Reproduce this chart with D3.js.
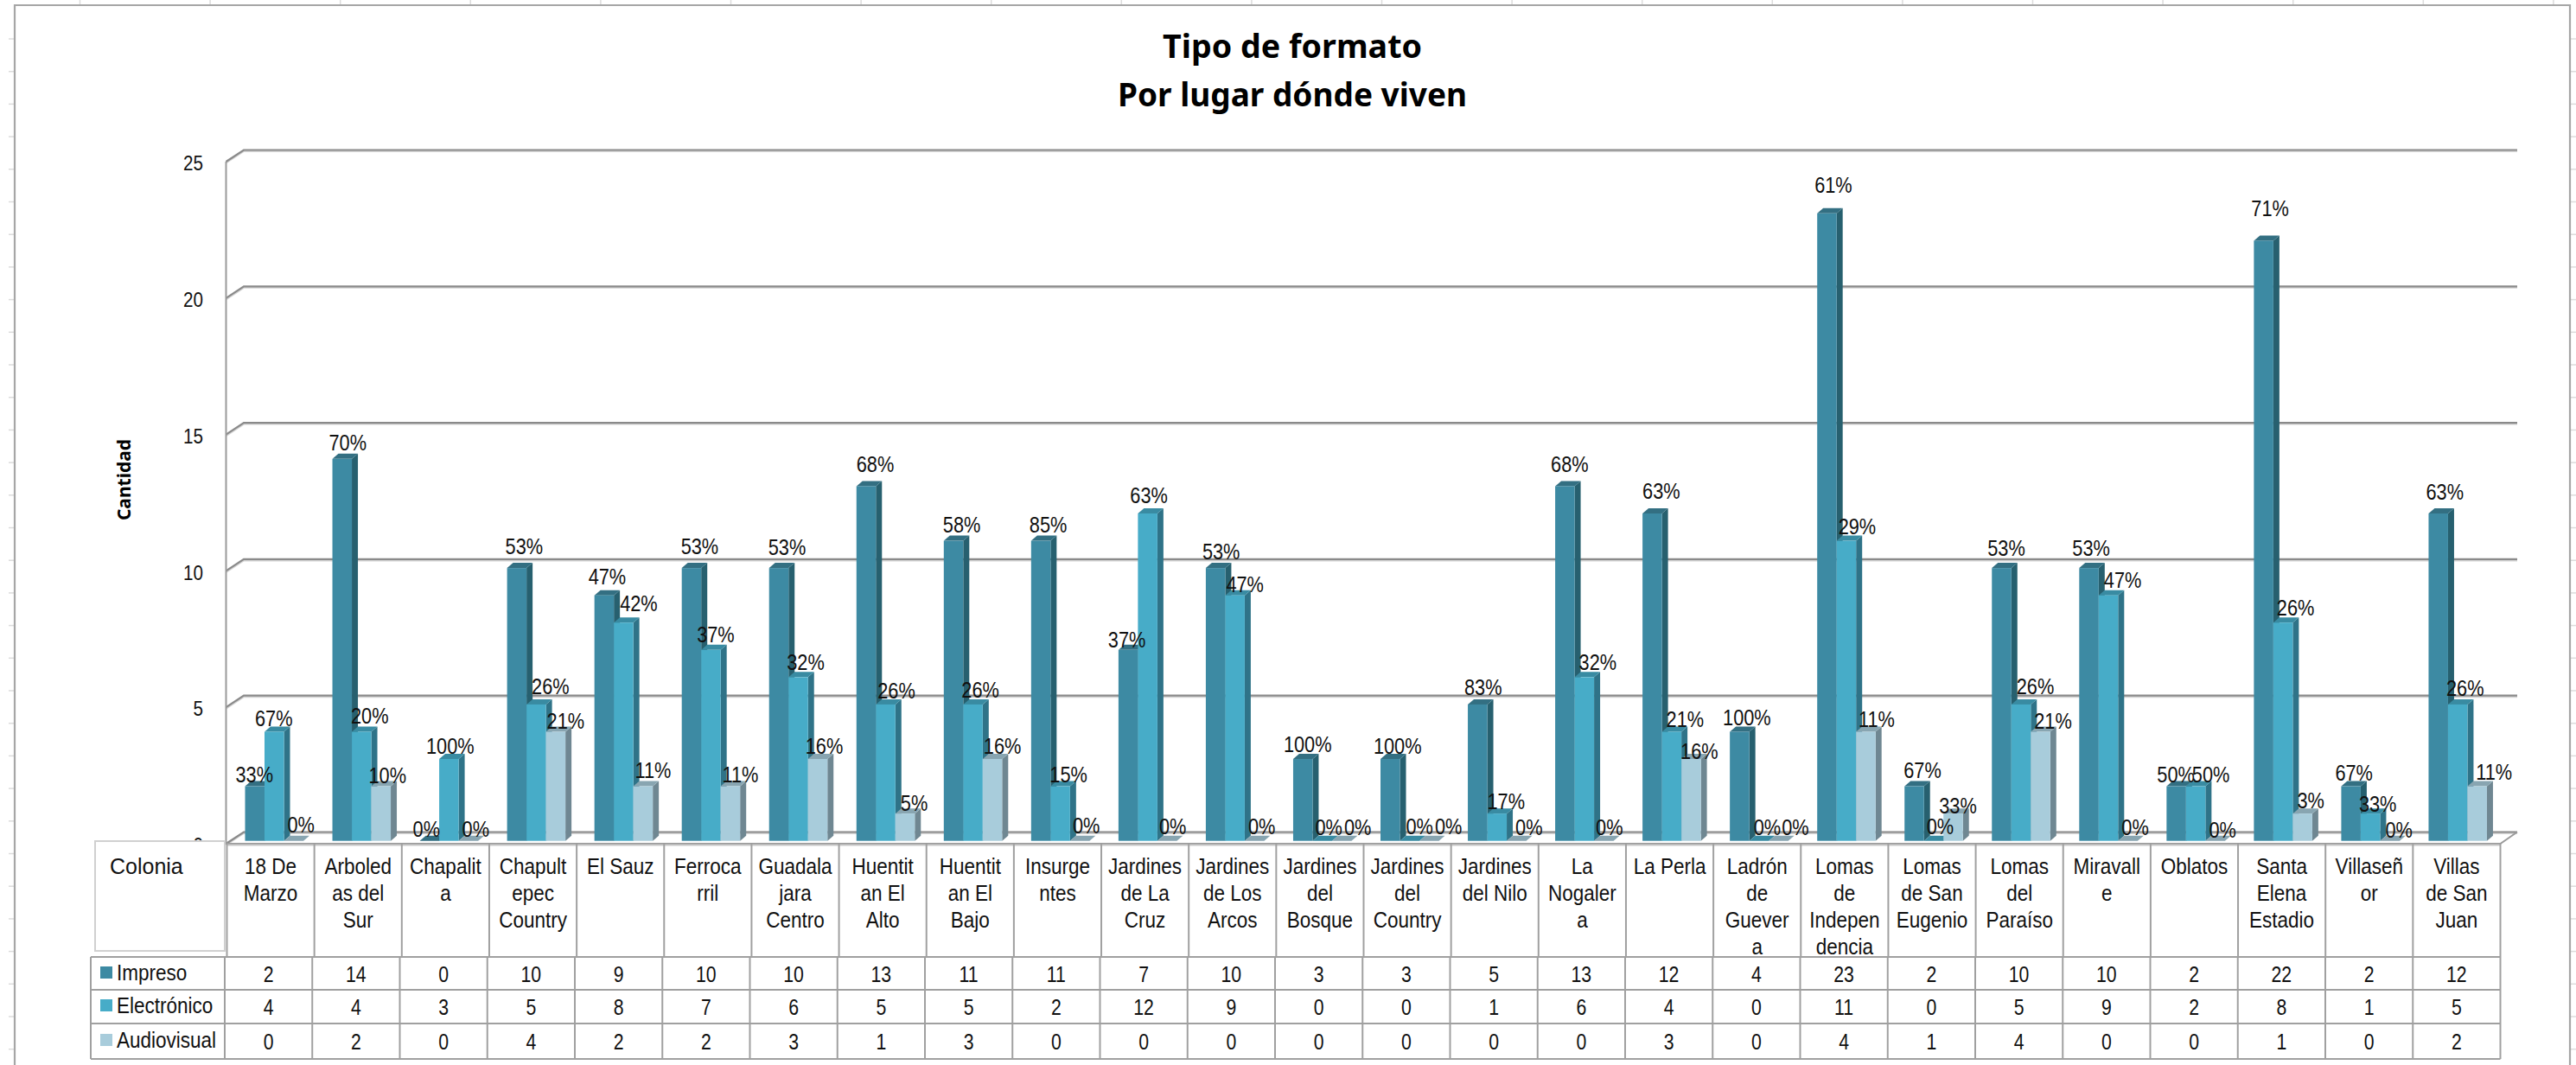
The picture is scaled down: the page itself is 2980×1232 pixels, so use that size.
<!DOCTYPE html>
<html><head><meta charset="utf-8">
<script src="https://cdn.jsdelivr.net/npm/d3@7"></script>
<style>html,body{margin:0;padding:0;background:#fff}svg{display:block}
text{font-family:"Liberation Sans",sans-serif;fill:#111}</style>
</head><body><div id="c"></div>
<script>
const categories=["18 De\nMarzo","Arboled\nas del\nSur","Chapalit\na","Chapult\nepec\nCountry","El Sauz","Ferroca\nrril","Guadala\njara\nCentro","Huentit\nan El\nAlto","Huentit\nan El\nBajo","Insurge\nntes","Jardines\nde La\nCruz","Jardines\nde Los\nArcos","Jardines\ndel\nBosque","Jardines\ndel\nCountry","Jardines\ndel Nilo","La\nNogaler\na","La Perla","Ladrón\nde\nGuever\na","Lomas\nde\nIndepen\ndencia","Lomas\nde San\nEugenio","Lomas\ndel\nParaíso","Miravall\ne","Oblatos","Santa\nElena\nEstadio","Villaseñ\nor","Villas\nde San\nJuan"];
const seriesNames=["Impreso","Electrónico","Audiovisual"];
const impreso=[2,14,0,10,9,10,10,13,11,11,7,10,3,3,5,13,12,4,23,2,10,10,2,22,2,12];
const electronico=[4,4,3,5,8,7,6,5,5,2,12,9,0,0,1,6,4,0,11,0,5,9,2,8,1,5];
const audiovisual=[0,2,0,4,2,2,3,1,3,0,0,0,0,0,0,0,3,0,4,1,4,0,0,1,0,2];
const pctImpreso=[33,70,0,53,47,53,53,68,58,85,37,53,100,100,83,68,63,100,61,67,53,53,50,71,67,63];
const pctElectronico=[67,20,100,26,42,37,32,26,26,15,63,47,0,0,17,32,21,0,29,0,26,47,50,26,33,26];
const pctAudiovisual=[0,10,0,21,11,11,16,5,16,0,0,0,0,0,0,0,16,0,11,33,21,0,0,3,0,11];
const yTicks=[0,5,10,15,20,25];
const titleLines=["Tipo de formato","Por lugar dónde viven"];

// Hand placement of the percent labels, relative to the top of their own bar (layout, not data)
const shiftImpreso=[-2,5,-5,7,2,8,8,9,8,7,-3,5,4,7,5,4,9,7,6,8,4,1,-2,6,2,6];
const shiftElectronico=[-2,8,0,15,16,4,7,11,7,8,0,10,6,10,9,14,14,8,11,6,15,15,16,13,7,7];
const shiftAudiovisual=[7,6,7,10,10,10,6,9,10,6,5,7,17,21,13,5,8,18,11,4,13,7,7,8,9,18];
const liftImpreso=[13,19,13,25,21,25,24,25,18,18,12,19,17,15,20,25,26,16,33,18,23,23,13,37,15,25];
const liftElectronico=[15,18,15,21,22,18,17,16,17,13,21,12,15,16,14,17,14,15,16,16,21,17,13,17,11,19];
const liftAudiovisual=[18,12,13,12,18,13,15,12,15,17,16,16,15,16,15,15,9,15,14,9,12,15,12,15,12,16];

const W=2980,H=1232;
const svg=d3.select("#c").append("svg").attr("width",W).attr("height",H);
const values=[impreso,electronico,audiovisual], pcts=[pctImpreso,pctElectronico,pctAudiovisual];
const shifts=[shiftImpreso,shiftElectronico,shiftAudiovisual], lifts=[liftImpreso,liftElectronico,liftAudiovisual];
const front=["#3d8aa3","#47acc8","#a8ccdb"], side=["#27606f","#2f7388","#6f8792"], topc=["#336f82","#398ba2","#88a5b1"];

const fit=(sel,k)=>sel.each(function(){const w=this.getComputedTextLength();this.setAttribute("textLength",w*k);this.setAttribute("lengthAdjust","spacingAndGlyphs");});
const fitTo=(sel,w)=>sel.attr("textLength",w).attr("lengthAdjust","spacingAndGlyphs");

const px0=262.5,px1=2892.5,dx=19.5,dy=13.5,floorY=976,unit=31.56;
const x=d3.scaleBand().domain(d3.range(categories.length)).range([263,2890]);
const head=d3.scaleBand().domain(d3.range(categories.length)).range([px0,px1]);
const y=d3.scaleLinear().domain([0,25]).range([floorY,floorY-25*unit]);
const barW=22.5, gap=20.5, depth=7, cap=6, barFloor=-3.3, labelNudge=1.5;
const g=svg.append("g");

// sheet ticks behind the chart
const sheet=svg.insert("g",":first-child").attr("stroke","#dcdcdc").attr("stroke-width",1.5);
d3.range(92.5,W,150.6).forEach(v=>sheet.append("line").attr("x1",v).attr("x2",v).attr("y1",0).attr("y2",6));
d3.range(45,H,37.7).forEach(v=>{
  sheet.append("line").attr("x1",10).attr("x2",17).attr("y1",v).attr("y2",v);
  sheet.append("line").attr("x1",2973).attr("x2",W).attr("y1",v).attr("y2",v);
});
// frame
g.append("path").attr("d",`M17,${H}V6H2973V${H}`).attr("fill","none").attr("stroke","#a6a6a6").attr("stroke-width",2.2);

// walls & gridlines
const grid=g.append("g").attr("fill","none");
yTicks.forEach(t=>{
  const yy=y(t);
  grid.append("path").attr("d",`M${px0-1},${yy}L${px0+dx},${yy-dy}H${px1+dx}`).attr("stroke","#d4d4d4").attr("stroke-width",2).attr("transform","translate(0,1.5)");
  grid.append("path").attr("d",`M${px0-1},${yy}L${px0+dx},${yy-dy}H${px1+dx}`).attr("stroke","#8a8a8a").attr("stroke-width",2.2);
});
grid.append("path").attr("d",`M${px0-1},${y(25)}V${floorY}H${px1}L${px1+dx},${floorY-dy}`).attr("stroke","#9a9a9a").attr("stroke-width",2);
grid.append("path").attr("d",`M${px0},${floorY+1.5}H${px1}`).attr("stroke","#c8c8c8").attr("stroke-width",2);

// y axis
const axis=d3.axisLeft(y).tickValues(yTicks).tickSize(0).tickPadding(0);
const ax=g.append("g").attr("transform","translate(235,2)").call(axis);
ax.select(".domain").remove();
ax.selectAll("text").style("font-size","24px").style("font-family",'"Liberation Sans"').attr("fill","#111");
fit(ax.selectAll("text"),0.86);

// bars
const bars=g.append("g");
const bx=(i,s)=>x(i)+gap+s*barW;
categories.forEach((c,i)=>{
  values.forEach((vals,s)=>{
    const v=vals[i],l=bx(i,s),r=l+barW,b=y(0)+barFloor,t=y(v)+barFloor;
    const gb=bars.append("g");
    gb.append("path").attr("d",`M${r},${t}L${r+depth},${t-cap}V${b-cap}L${r},${b}Z`).attr("fill",side[s]);
    gb.append("path").attr("d",`M${l},${t}L${l+depth},${t-cap}H${r+depth}L${r},${t}Z`).attr("fill",topc[s]);
    if(v>0) gb.append("rect").attr("x",l).attr("y",t).attr("width",barW).attr("height",b-t).attr("fill",front[s]);
  });
});
// percent labels
const labels=g.append("g").attr("text-anchor","middle").style("font-size","25px");
categories.forEach((c,i)=>{
  values.forEach((vals,s)=>{
    const v=vals[i];
    fit(labels.append("text").attr("x",bx(i,s)+barW/2+shifts[s][i]+labelNudge).attr("y",y(v)+barFloor-lifts[s][i]).attr("dy","0.35em").text(pcts[s][i]+"%"),0.87);
  });
});

// data table
const t=g.append("g");
const rowY=[1107,1145,1184,1225], tblL=105, cellL=260;
const col=d3.scaleBand().domain(d3.range(categories.length)).range([cellL,px1]);
const tl=t.append("g").attr("stroke","#a0a0a0").attr("stroke-width",2);
categories.forEach((c,i)=>{
  tl.append("line").attr("x1",head(i)+head.bandwidth()).attr("x2",head(i)+head.bandwidth()).attr("y1",floorY).attr("y2",rowY[0]);
  tl.append("line").attr("x1",col(i)+col.bandwidth()).attr("x2",col(i)+col.bandwidth()).attr("y1",rowY[0]).attr("y2",rowY[3]);
});
tl.append("line").attr("x1",px0).attr("x2",px0).attr("y1",floorY).attr("y2",rowY[0]);
tl.append("line").attr("x1",cellL).attr("x2",cellL).attr("y1",rowY[0]).attr("y2",rowY[3]);
tl.append("line").attr("x1",tblL).attr("x2",tblL).attr("y1",rowY[0]).attr("y2",rowY[3]);
rowY.forEach(r=>tl.append("line").attr("x1",tblL).attr("x2",px1).attr("y1",r).attr("y2",r));
t.append("rect").attr("x",110).attr("y",973).attr("width",150).attr("height",127).attr("fill","#fff").attr("stroke","#d0d0d0").attr("stroke-width",2);
t.append("text").attr("x",127).attr("y",1002).attr("dy","0.35em").style("font-size","25px").text("Colonia");

categories.forEach((c,i)=>{
  c.split("\n").forEach((ln,k)=>{
    fit(t.append("text").attr("x",head(i)+head.bandwidth()/2).attr("y",1002+k*31).attr("dy","0.35em").attr("text-anchor","middle").style("font-size","25px").text(ln),0.9);
  });
  values.forEach((vals,s)=>{
    fit(t.append("text").attr("x",col(i)+col.bandwidth()/2).attr("y",(s===0?1127:s===1?1165:1205)).attr("dy","0.35em").attr("text-anchor","middle").style("font-size","25px").text(vals[i]),0.85);
  });
});
seriesNames.forEach((n,s)=>{
  const cy=[1125,1163,1203][s];
  t.append("rect").attr("x",116).attr("y",cy-7).attr("width",14).attr("height",14).attr("fill",front[s]);
  fit(t.append("text").attr("x",135).attr("y",cy).attr("dy","0.35em").style("font-size","25px").text(n),0.9);
});

// titles
const titleWidths=[300,404];
titleLines.forEach((l,k)=>{
  fitTo(svg.append("text").attr("x",1495).attr("y",66.7+k*56.5).attr("text-anchor","middle")
   .style("font-family",'"Noto Sans"').style("font-weight","bold").style("font-size","38px").style("fill","#000").text(l),titleWidths[k]);
});
svg.append("text").attr("transform","translate(144,555) rotate(-90)").attr("dy","0.35em").attr("text-anchor","middle")
  .style("font-family",'"Noto Sans"').style("font-weight","bold").style("font-size","21px").style("fill","#000").text("Cantidad");
</script></body></html>
